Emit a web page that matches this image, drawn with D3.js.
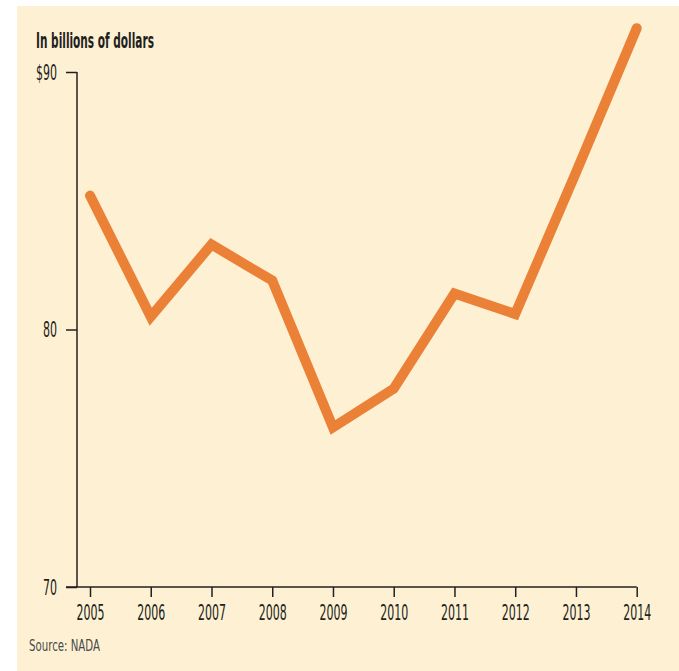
<!DOCTYPE html>
<html>
<head>
<meta charset="utf-8">
<script src="https://cdn.jsdelivr.net/npm/d3@7"></script>
<style>
  html, body { margin: 0; padding: 0; background: #ffffff; }
  svg { display: block; }
</style>
</head>
<body>
<svg id="chart" width="679" height="671"></svg>
<script>
// Annual figures, in billions of dollars
const years = [2005, 2006, 2007, 2008, 2009, 2010, 2011, 2012, 2013, 2014];
const values = [85.2, 80.5, 83.3, 81.9, 76.2, 77.7, 81.4, 80.6, 86.1, 91.7];
const yTicks = [70, 80, 90];
const yTickLabels = ["70", "80", "$90"];
const titleText = "In billions of dollars";
const sourceText = "Source: NADA";

const W = 679, H = 671;
const ink = "#231f20";
const condensed = "'Liberation Sans Narrow', 'DejaVu Sans Condensed', 'Liberation Sans', sans-serif";

const svg = d3.select("#chart");

// panel background
svg.append("rect")
  .attr("x", 17).attr("y", 6)
  .attr("width", W - 17).attr("height", H - 6)
  .attr("fill", "#fef1d3");

const x = d3.scaleLinear().domain([2005, 2014]).range([90, 636.7]);
const y = d3.scaleLinear().domain([70, 90]).range([587, 72]);
const axisX = 77;

// squeeze a text element horizontally so it spans the given width
function fitWidth(sel, width) {
  sel.each(function () {
    const el = d3.select(this);
    const w = this.getComputedTextLength();
    const s = width / w;
    const tx = +el.attr("x") || 0;
    const ty = +el.attr("y") || 0;
    el.attr("transform", `translate(${tx},${ty}) scale(${s},1)`)
      .attr("x", 0).attr("y", 0);
  });
}

// y axis
const gy = svg.append("g")
  .attr("transform", `translate(${axisX},0)`)
  .call(d3.axisLeft(y).tickValues(yTicks).tickSize(11).tickPadding(0)
    .tickFormat((d, i) => yTickLabels[i]));
gy.select(".domain").remove();
gy.selectAll(".tick line").attr("stroke", ink).attr("stroke-width", 1.5);
gy.selectAll(".tick text")
  .attr("fill", ink)
  .attr("font-family", condensed)
  .attr("font-size", 21)
  .attr("x", -20)
  .attr("y", 7)
  .attr("dy", 0)
  .attr("text-anchor", "end")
  .each(function () {
    const n = d3.select(this).text().length;
    fitWidth(d3.select(this), n === 3 ? 21 : 14);
  });

svg.append("line")
  .attr("x1", axisX).attr("x2", axisX)
  .attr("y1", y(90)).attr("y2", y(70))
  .attr("stroke", ink).attr("stroke-width", 1.5);

// x axis
const gx = svg.append("g")
  .attr("transform", `translate(0,${y(70)})`)
  .call(d3.axisBottom(x).tickValues(years).tickSize(10).tickFormat(d3.format("d")));
gx.select(".domain").remove();
gx.selectAll(".tick line").attr("stroke", ink).attr("stroke-width", 1.5);
gx.selectAll(".tick text")
  .attr("fill", ink)
  .attr("font-family", condensed)
  .attr("font-size", 21)
  .attr("dy", 0)
  .attr("y", 33)
  .call(fitWidth, 28);

svg.append("line")
  .attr("x1", axisX - 11).attr("x2", x(2014))
  .attr("y1", y(70)).attr("y2", y(70))
  .attr("stroke", ink).attr("stroke-width", 1.5);

// the series line
const line = d3.line().x((d, i) => x(years[i])).y(d => y(d));
svg.append("path")
  .datum(values)
  .attr("d", line)
  .attr("fill", "none")
  .attr("stroke", "#eb8137")
  .attr("stroke-width", 10)
  .attr("stroke-linecap", "round")
  .attr("stroke-linejoin", "miter");

// unit label
svg.append("text")
  .attr("x", 36).attr("y", 48)
  .attr("fill", ink)
  .attr("font-family", condensed)
  .attr("font-weight", "bold")
  .attr("font-size", 21)
  .text(titleText)
  .call(fitWidth, 118);

// source note
svg.append("text")
  .attr("x", 29).attr("y", 651)
  .attr("fill", "#4a4a4a")
  .attr("font-family", condensed)
  .attr("font-size", 16)
  .text(sourceText)
  .call(fitWidth, 71);
</script>
</body>
</html>
